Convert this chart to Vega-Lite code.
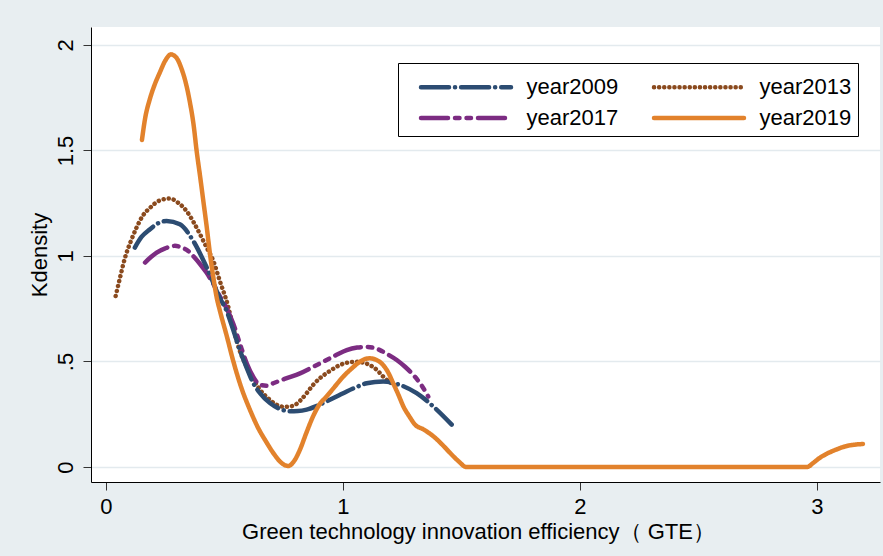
{
  "$schema": "https://vega.github.io/schema/vega-lite/v6.json",
  "width": 789,
  "height": 455,
  "autosize": {"type": "none"},
  "padding": {"left": 91, "top": 27, "right": 3, "bottom": 74},
  "background": "#e8eef1",
  "config": {
    "view": {"fill": "white", "stroke": null},
    "font": "Liberation Sans",
    "axis": {"labelColor": "black", "titleColor": "black", "titleFontWeight": "normal", "domainColor": "black", "tickColor": "#333333"}
  },
  "datasets": {
    "kd": [
      {"series": "year2013", "x": 0.041, "y": 0.81},
      {"series": "year2013", "x": 0.06, "y": 0.9},
      {"series": "year2013", "x": 0.08, "y": 0.99},
      {"series": "year2013", "x": 0.105, "y": 1.07},
      {"series": "year2013", "x": 0.129, "y": 1.134},
      {"series": "year2013", "x": 0.155, "y": 1.19},
      {"series": "year2013", "x": 0.186, "y": 1.228},
      {"series": "year2013", "x": 0.225, "y": 1.262},
      {"series": "year2013", "x": 0.27, "y": 1.272},
      {"series": "year2013", "x": 0.305, "y": 1.252},
      {"series": "year2013", "x": 0.34, "y": 1.213},
      {"series": "year2013", "x": 0.37, "y": 1.16},
      {"series": "year2013", "x": 0.397, "y": 1.103},
      {"series": "year2013", "x": 0.425, "y": 1.04},
      {"series": "year2013", "x": 0.453, "y": 0.977},
      {"series": "year2013", "x": 0.481, "y": 0.88},
      {"series": "year2013", "x": 0.516, "y": 0.76},
      {"series": "year2013", "x": 0.537, "y": 0.66},
      {"series": "year2013", "x": 0.565, "y": 0.55},
      {"series": "year2013", "x": 0.594, "y": 0.475},
      {"series": "year2013", "x": 0.62, "y": 0.42},
      {"series": "year2013", "x": 0.65, "y": 0.366},
      {"series": "year2013", "x": 0.685, "y": 0.325},
      {"series": "year2013", "x": 0.72, "y": 0.295},
      {"series": "year2013", "x": 0.755, "y": 0.285},
      {"series": "year2013", "x": 0.79, "y": 0.29},
      {"series": "year2013", "x": 0.82, "y": 0.315},
      {"series": "year2013", "x": 0.847, "y": 0.35},
      {"series": "year2013", "x": 0.875, "y": 0.39},
      {"series": "year2013", "x": 0.903, "y": 0.421},
      {"series": "year2013", "x": 0.945, "y": 0.455},
      {"series": "year2013", "x": 0.987, "y": 0.483},
      {"series": "year2013", "x": 1.02, "y": 0.495},
      {"series": "year2013", "x": 1.058, "y": 0.499},
      {"series": "year2013", "x": 1.09, "y": 0.493},
      {"series": "year2013", "x": 1.114, "y": 0.483},
      {"series": "year2013", "x": 1.145, "y": 0.458},
      {"series": "year2013", "x": 1.17, "y": 0.428},
      {"series": "year2013", "x": 1.205, "y": 0.397},
      {"series": "year2013", "x": 1.24, "y": 0.38},

      {"series": "year2017", "x": 0.165, "y": 0.969},
      {"series": "year2017", "x": 0.19, "y": 0.995},
      {"series": "year2017", "x": 0.214, "y": 1.016},
      {"series": "year2017", "x": 0.25, "y": 1.036},
      {"series": "year2017", "x": 0.291, "y": 1.048},
      {"series": "year2017", "x": 0.32, "y": 1.04},
      {"series": "year2017", "x": 0.347, "y": 1.024},
      {"series": "year2017", "x": 0.372, "y": 0.995},
      {"series": "year2017", "x": 0.397, "y": 0.962},
      {"series": "year2017", "x": 0.425, "y": 0.92},
      {"series": "year2017", "x": 0.453, "y": 0.868},
      {"series": "year2017", "x": 0.48, "y": 0.81},
      {"series": "year2017", "x": 0.51, "y": 0.75},
      {"series": "year2017", "x": 0.537, "y": 0.68},
      {"series": "year2017", "x": 0.565, "y": 0.585},
      {"series": "year2017", "x": 0.594, "y": 0.491},
      {"series": "year2017", "x": 0.62, "y": 0.43},
      {"series": "year2017", "x": 0.65, "y": 0.389},
      {"series": "year2017", "x": 0.68, "y": 0.385},
      {"series": "year2017", "x": 0.706, "y": 0.397},
      {"series": "year2017", "x": 0.76, "y": 0.42},
      {"series": "year2017", "x": 0.819, "y": 0.444},
      {"series": "year2017", "x": 0.875, "y": 0.475},
      {"series": "year2017", "x": 0.931, "y": 0.507},
      {"series": "year2017", "x": 0.975, "y": 0.533},
      {"series": "year2017", "x": 1.016, "y": 0.554},
      {"series": "year2017", "x": 1.06, "y": 0.566},
      {"series": "year2017", "x": 1.1, "y": 0.569},
      {"series": "year2017", "x": 1.13, "y": 0.565},
      {"series": "year2017", "x": 1.156, "y": 0.554},
      {"series": "year2017", "x": 1.19, "y": 0.533},
      {"series": "year2017", "x": 1.227, "y": 0.507},
      {"series": "year2017", "x": 1.262, "y": 0.475},
      {"series": "year2017", "x": 1.297, "y": 0.436},
      {"series": "year2017", "x": 1.33, "y": 0.39},
      {"series": "year2017", "x": 1.36, "y": 0.334},

      {"series": "year2009", "x": 0.122, "y": 1.04},
      {"series": "year2009", "x": 0.15, "y": 1.09},
      {"series": "year2009", "x": 0.186, "y": 1.127},
      {"series": "year2009", "x": 0.22, "y": 1.155},
      {"series": "year2009", "x": 0.256, "y": 1.166},
      {"series": "year2009", "x": 0.312, "y": 1.15},
      {"series": "year2009", "x": 0.368, "y": 1.072},
      {"series": "year2009", "x": 0.425, "y": 0.946},
      {"series": "year2009", "x": 0.481, "y": 0.8},
      {"series": "year2009", "x": 0.509, "y": 0.74},
      {"series": "year2009", "x": 0.537, "y": 0.65},
      {"series": "year2009", "x": 0.565, "y": 0.554},
      {"series": "year2009", "x": 0.594, "y": 0.47},
      {"series": "year2009", "x": 0.622, "y": 0.397},
      {"series": "year2009", "x": 0.65, "y": 0.35},
      {"series": "year2009", "x": 0.692, "y": 0.303},
      {"series": "year2009", "x": 0.735, "y": 0.275},
      {"series": "year2009", "x": 0.776, "y": 0.264},
      {"series": "year2009", "x": 0.81, "y": 0.265},
      {"series": "year2009", "x": 0.847, "y": 0.272},
      {"series": "year2009", "x": 0.89, "y": 0.29},
      {"series": "year2009", "x": 0.931, "y": 0.311},
      {"series": "year2009", "x": 0.975, "y": 0.335},
      {"series": "year2009", "x": 1.016, "y": 0.358},
      {"series": "year2009", "x": 1.06, "y": 0.38},
      {"series": "year2009", "x": 1.1, "y": 0.397},
      {"series": "year2009", "x": 1.17, "y": 0.405},
      {"series": "year2009", "x": 1.24, "y": 0.389},
      {"series": "year2009", "x": 1.311, "y": 0.35},
      {"series": "year2009", "x": 1.381, "y": 0.287},
      {"series": "year2009", "x": 1.459, "y": 0.201},

      {"series": "year2019", "x": 0.152, "y": 1.55},
      {"series": "year2019", "x": 0.165, "y": 1.65},
      {"series": "year2019", "x": 0.186, "y": 1.746},
      {"series": "year2019", "x": 0.205, "y": 1.81},
      {"series": "year2019", "x": 0.228, "y": 1.871},
      {"series": "year2019", "x": 0.25, "y": 1.925},
      {"series": "year2019", "x": 0.274, "y": 1.955},
      {"series": "year2019", "x": 0.297, "y": 1.94},
      {"series": "year2019", "x": 0.319, "y": 1.887},
      {"series": "year2019", "x": 0.337, "y": 1.82},
      {"series": "year2019", "x": 0.354, "y": 1.73},
      {"series": "year2019", "x": 0.37, "y": 1.62},
      {"series": "year2019", "x": 0.383, "y": 1.495},
      {"series": "year2019", "x": 0.397, "y": 1.38},
      {"series": "year2019", "x": 0.411, "y": 1.26},
      {"series": "year2019", "x": 0.425, "y": 1.14},
      {"series": "year2019", "x": 0.439, "y": 1.01},
      {"series": "year2019", "x": 0.453, "y": 0.9},
      {"series": "year2019", "x": 0.467, "y": 0.805},
      {"series": "year2019", "x": 0.481, "y": 0.74},
      {"series": "year2019", "x": 0.51, "y": 0.62},
      {"series": "year2019", "x": 0.536, "y": 0.507},
      {"series": "year2019", "x": 0.57, "y": 0.38},
      {"series": "year2019", "x": 0.608, "y": 0.27},
      {"series": "year2019", "x": 0.64, "y": 0.19},
      {"series": "year2019", "x": 0.678, "y": 0.116},
      {"series": "year2019", "x": 0.71, "y": 0.06},
      {"series": "year2019", "x": 0.74, "y": 0.02},
      {"series": "year2019", "x": 0.769, "y": 0.005},
      {"series": "year2019", "x": 0.795, "y": 0.03},
      {"series": "year2019", "x": 0.819, "y": 0.083},
      {"series": "year2019", "x": 0.845, "y": 0.16},
      {"series": "year2019", "x": 0.874, "y": 0.24},
      {"series": "year2019", "x": 0.9, "y": 0.295},
      {"series": "year2019", "x": 0.931, "y": 0.334},
      {"series": "year2019", "x": 0.965, "y": 0.38},
      {"series": "year2019", "x": 1.001, "y": 0.428},
      {"series": "year2019", "x": 1.035, "y": 0.465},
      {"series": "year2019", "x": 1.072, "y": 0.499},
      {"series": "year2019", "x": 1.095, "y": 0.512},
      {"series": "year2019", "x": 1.114, "y": 0.515},
      {"series": "year2019", "x": 1.14, "y": 0.508},
      {"series": "year2019", "x": 1.163, "y": 0.491},
      {"series": "year2019", "x": 1.19, "y": 0.45},
      {"series": "year2019", "x": 1.212, "y": 0.397},
      {"series": "year2019", "x": 1.235, "y": 0.34},
      {"series": "year2019", "x": 1.255, "y": 0.287},
      {"series": "year2019", "x": 1.28, "y": 0.24},
      {"series": "year2019", "x": 1.304, "y": 0.201},
      {"series": "year2019", "x": 1.34, "y": 0.178},
      {"series": "year2019", "x": 1.381, "y": 0.146},
      {"series": "year2019", "x": 1.42, "y": 0.105},
      {"series": "year2019", "x": 1.451, "y": 0.068},
      {"series": "year2019", "x": 1.49, "y": 0.025},
      {"series": "year2019", "x": 1.52, "y": 0.0},
      {"series": "year2019", "x": 2.0, "y": 0.0},
      {"series": "year2019", "x": 2.5, "y": 0.0},
      {"series": "year2019", "x": 2.958, "y": 0.0},
      {"series": "year2019", "x": 2.985, "y": 0.02},
      {"series": "year2019", "x": 3.01, "y": 0.042},
      {"series": "year2019", "x": 3.04, "y": 0.062},
      {"series": "year2019", "x": 3.08, "y": 0.082},
      {"series": "year2019", "x": 3.12, "y": 0.098},
      {"series": "year2019", "x": 3.16, "y": 0.106},
      {"series": "year2019", "x": 3.194, "y": 0.109}
    ]
  },
  "data": {"name": "kd"},
  "mark": {"type": "line", "strokeCap": "round", "strokeJoin": "round", "interpolate": "monotone", "clip": true},
  "encoding": {
    "x": {
      "field": "x", "type": "quantitative",
      "scale": {"domain": [-0.063, 3.266], "nice": false, "zero": false},
      "axis": {
        "values": [0, 1, 2, 3], "grid": false, "title": "Green technology innovation efficiency（ GTE）",
        "labelFontSize": 22, "titleFontSize": 22, "tickSize": 8, "labelPadding": 6, "titlePadding": 4, "labelFlush": false,
        "titleX": 387, "titleAnchor": "middle"
      }
    },
    "y": {
      "field": "y", "type": "quantitative",
      "scale": {"domain": [-0.071, 2.085], "nice": false, "zero": false},
      "axis": {
        "values": [0, 0.5, 1, 1.5, 2], "grid": true, "gridColor": "#e3eaee", "gridWidth": 1.5,
        "title": "Kdensity", "labelAngle": -90, "labelExpr": "datum.value == 0.5 ? '.5' : datum.label",
        "format": "~g", "labelFontSize": 22, "titleFontSize": 22, "tickSize": 8, "labelPadding": 6, "titlePadding": 3
      }
    },
    "color": {
      "field": "series", "type": "nominal",
      "scale": {"domain": ["year2009", "year2017", "year2013", "year2019"], "range": ["#2c4c72", "#7c2c82", "#8a4a1e", "#e2822c"]},
      "legend": {
        "orient": "none", "legendX": 307, "legendY": 36, "columns": 2, "title": null,
        "symbolType": "M-3,0L3,0", "symbolSize": 900, "symbolStrokeWidth": 4.5,
        "labelFontSize": 22, "labelFont": "Liberation Sans", "labelColor": "black",
        "fillColor": "white", "strokeColor": "black", "padding": 6.5,
        "rowPadding": 2, "columnPadding": 19, "symbolOffset": 44, "labelOffset": 43,
        "encode": {"symbols": {"update": {"strokeCap": {"value": "round"}}}}
      }
    },
    "strokeDash": {
      "field": "series", "type": "nominal",
      "scale": {"domain": ["year2009", "year2017", "year2013", "year2019"], "range": [[28, 6, 0.1, 6], [27, 7, 4.5, 7, 4.5, 7], [0.1, 5], [1, 0]]},
      "legend": null
    },
    "strokeWidth": {
      "field": "series", "type": "nominal",
      "scale": {"domain": ["year2009", "year2017", "year2013", "year2019"], "range": [4.5, 4.5, 4.5, 5]},
      "legend": null
    }
  }
}
